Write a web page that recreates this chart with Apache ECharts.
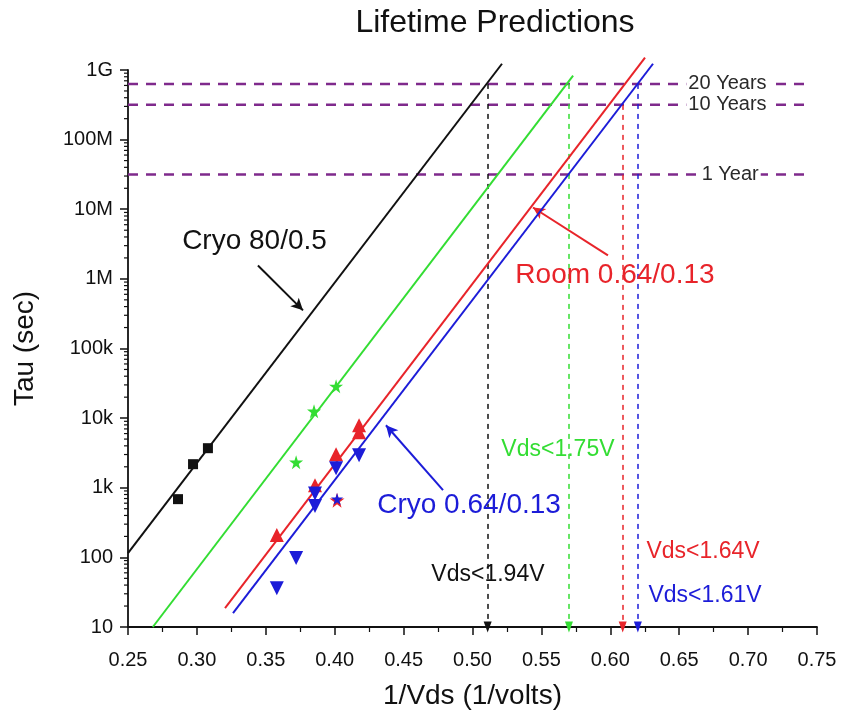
<!DOCTYPE html>
<html>
<head>
<meta charset="utf-8">
<script src="https://cdn.jsdelivr.net/npm/echarts@6/dist/echarts.min.js"></script>
<style>
  html, body { margin: 0; padding: 0; background: #fff; }
  #chart { width: 843px; height: 715px; }
</style>
</head>
<body>
<div id="chart"></div>
<script>
// Axis ticks
const yTickValues = [10, 100, 1e3, 1e4, 1e5, 1e6, 1e7, 1e8, 1e9];
const yTickLabels = ['10', '100', '1k', '10k', '100k', '1M', '10M', '100M', '1G'];

// Measured lifetimes [1/Vds, tau (s)]
const cryo80Points = [[0.2863, 686], [0.2972, 2180], [0.308, 3700]];
const cryo80Fit = [[0.25, 115], [0.5214, 1.23e9]];

const greenPoints = [[0.372, 2330], [0.385, 12600], [0.401, 28700]];
const greenFit = [[0.268, 10], [0.573, 8.3e8]];

const roomPoints = [[0.358, 209], [0.3857, 1090], [0.401, 3030], [0.4177, 7900], [0.4177, 6270]];
const roomStar = [[0.4017, 664]];
const roomFit = [[0.3204, 18.7], [0.6252, 1.51e9]];

const cryo064Points = [[0.358, 36], [0.372, 98], [0.3857, 830], [0.3857, 545], [0.401, 1900], [0.4177, 2940]];
const cryo064Star = [[0.4017, 690]];
const cryo064Fit = [[0.3262, 15.8], [0.631, 1.23e9]];

// Lifetime targets (seconds)
const yearLabels = ['20 Years', '10 Years', '1 Year'];
const yearSeconds = [6.31e8, 3.156e8, 3.156e7];
const yearLabelX = [0.685, 0.685, 0.687];

// Voltage limits where each fit reaches its target
const vdsLabels = ['Vds<1.94V', 'Vds<1.75V', 'Vds<1.64V', 'Vds<1.61V'];
const vdsLimitX = [0.511, 0.570, 0.609, 0.620];
const vdsLimitTop = [6.31e8, 6.31e8, 3.156e8, 6.31e8];
const vdsLabelPos = [[0.5112, 55.7], [0.562, 3580], [0.6673, 119], [0.6687, 27.9]];

const C_BLACK = '#111111';
const C_GREEN = '#33dd33';
const C_RED = '#e8242a';
const C_BLUE = '#1c1cd8';
const C_PURPLE = '#7f2a8c';
const vdsColors = [C_BLACK, C_GREEN, C_RED, C_BLUE];

const STAR = 'path://M50,0 L61,35 L98,35 L68,57 L79,91 L50,70 L21,91 L32,57 L2,35 L39,35 Z';
const FONT = 'Liberation Sans, Arial, sans-serif';

// Log-spaced minor tick values (2..9 in every decade)
const minorTickValues = [];
for (let k = 1; k < 9; k++) {
  for (let m = 2; m <= 9; m++) minorTickValues.push(m * Math.pow(10, k));
}

function textSeries(pos, text, color, size) {
  return {
    type: 'scatter', data: [pos], symbolSize: 0, z: 20, silent: true,
    itemStyle: { opacity: 1 },
    label: { show: true, position: 'inside', formatter: text, color: color,
             fontSize: size, fontFamily: FONT }
  };
}

function arrowLine(from, to, color) {
  return {
    type: 'line', data: [], silent: true, z: 15,
    markLine: {
      silent: true, symbol: ['none', 'arrow'], symbolSize: [9, 12],
      label: { show: false },
      lineStyle: { color: color, width: 2, type: 'solid' },
      data: [[{ coord: from }, { coord: to }]]
    }
  };
}

const series = [];

// Fitted lines
[[cryo80Fit, C_BLACK], [greenFit, C_GREEN], [roomFit, C_RED], [cryo064Fit, C_BLUE]].forEach(([d, c]) => {
  series.push({ type: 'line', data: d, symbol: 'none', clip: false,
                lineStyle: { color: c, width: 2 }, z: 5 });
});

// Lifetime target lines
yearSeconds.forEach((v) => {
  series.push({ type: 'line', data: [[0.25, v], [0.745, v]], symbol: 'none', clip: false,
                lineStyle: { color: C_PURPLE, width: 2.5, type: [10, 8] }, z: 3 });
});
yearSeconds.forEach((v, i) => {
  series.push({
    type: 'scatter', data: [[yearLabelX[i], v]], symbolSize: 0, z: 20, silent: true,
    itemStyle: { opacity: 1 },
    label: { show: true, position: 'inside', formatter: yearLabels[i], color: '#2a2a2a',
             fontSize: 20, fontFamily: FONT, backgroundColor: '#fff', padding: [0, 2] }
  });
});

// Voltage limit drop lines with arrows
vdsLimitX.forEach((x, i) => {
  series.push({
    type: 'line', data: [], silent: true, z: 4,
    markLine: {
      silent: true, symbol: ['none', 'triangle'], symbolSize: [8, 11],
      label: { show: false },
      lineStyle: { color: vdsColors[i], width: 1.5, type: [5, 5] },
      data: [[{ coord: [x, vdsLimitTop[i]] }, { coord: [x, 10] }]]
    }
  });
});

// Measured points
const solid = c => ({ color: c, opacity: 1 });
series.push({ type: 'scatter', data: cryo80Points, symbol: 'rect', symbolSize: 10,
              itemStyle: solid(C_BLACK), z: 10 });
series.push({ type: 'scatter', data: greenPoints, symbol: STAR, symbolSize: 14,
              itemStyle: solid(C_GREEN), z: 10 });
series.push({ type: 'scatter', data: roomPoints, symbol: 'triangle', symbolSize: 14,
              itemStyle: solid(C_RED), z: 10 });
series.push({ type: 'scatter', data: roomStar, symbol: STAR, symbolSize: 15,
              itemStyle: solid(C_RED), z: 10 });
series.push({ type: 'scatter', data: cryo064Points, symbol: 'triangle', symbolRotate: 180,
              symbolSize: 14, itemStyle: solid(C_BLUE), z: 11 });
series.push({ type: 'scatter', data: cryo064Star, symbol: STAR, symbolSize: 12,
              itemStyle: solid(C_BLUE), z: 11 });

// Annotations
series.push(textSeries([0.3418, 3.45e6], 'Cryo 80/0.5', C_BLACK, 28));
series.push(arrowLine([0.3443, 1.56e6], [0.377, 3.53e5], C_BLACK));
series.push(textSeries([0.6034, 1.12e6], 'Room 0.64/0.13', C_RED, 28));
series.push(arrowLine([0.5983, 2.17e6], [0.5439, 1.06e7], C_RED));
series.push(textSeries([0.4975, 562], 'Cryo 0.64/0.13', C_BLUE, 28));
series.push(arrowLine([0.4786, 925], [0.4372, 7900], C_BLUE));
vdsLabels.forEach((t, i) => {
  series.push(textSeries(vdsLabelPos[i], t, vdsColors[i], 23));
});

// Log minor ticks on the y axis
series.push({
  type: 'custom', data: minorTickValues.map(v => [0.25, v]), clip: false, silent: true, z: 2,
  renderItem: function (params, api) {
    const p = api.coord([api.value(0), api.value(1)]);
    return { type: 'line', shape: { x1: p[0] - 4, y1: p[1], x2: p[0], y2: p[1] },
             style: { stroke: '#111', lineWidth: 1.2 } };
  }
});

const chart = echarts.init(document.getElementById('chart'), null, { renderer: 'canvas' });
chart.setOption({
  animation: false,
  backgroundColor: '#fff',
  title: {
    text: 'Lifetime Predictions', left: 490, top: 2, textAlign: 'center',
    textStyle: { fontFamily: FONT, fontSize: 32, fontWeight: 'normal', color: '#111' }
  },
  grid: { left: 128, right: 26, top: 70, bottom: 88 },
  xAxis: {
    type: 'value', min: 0.25, max: 0.75, interval: 0.05,
    name: '1/Vds (1/volts)', nameLocation: 'middle', nameGap: 55,
    nameTextStyle: { fontFamily: FONT, fontSize: 28, color: '#111' },
    axisLine: { lineStyle: { color: '#111', width: 1.8 } },
    axisTick: { show: true, length: 8, lineStyle: { color: '#111', width: 1.5 } },
    minorTick: { show: true, splitNumber: 2, length: 5, lineStyle: { color: '#111', width: 1.2 } },
    axisLabel: { fontFamily: FONT, fontSize: 20, color: '#111', margin: 23,
                 formatter: v => v.toFixed(2) },
    splitLine: { show: false }
  },
  yAxis: {
    type: 'log', min: 10, max: 1e9, logBase: 10, interval: 1,
    name: 'Tau (sec)', nameLocation: 'middle', nameGap: 89, nameRotate: 90,
    nameTextStyle: { fontFamily: FONT, fontSize: 28, color: '#111' },
    axisLine: { show: true, lineStyle: { color: '#111', width: 1.8 } },
    axisTick: { show: true, length: 8, lineStyle: { color: '#111', width: 1.5 } },
    axisLabel: {
      fontFamily: FONT, fontSize: 20, color: '#111', margin: 15,
      formatter: v => {
        const i = yTickValues.findIndex(t => Math.abs(Math.log10(t) - Math.log10(v)) < 1e-6);
        return i >= 0 ? yTickLabels[i] : '';
      }
    },
    splitLine: { show: false }
  },
  series: series
});
</script>
</body>
</html>
